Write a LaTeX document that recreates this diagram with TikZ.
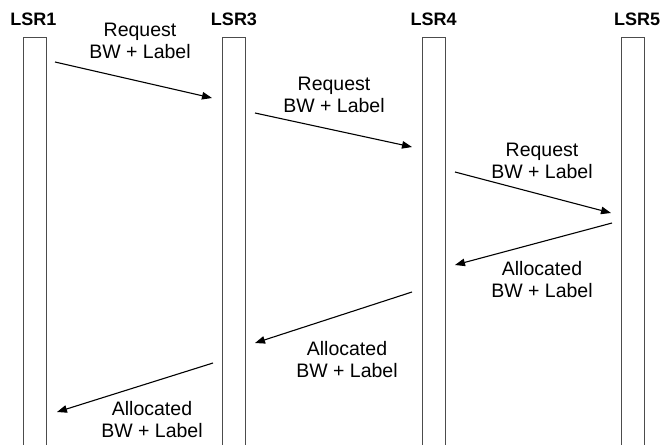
\documentclass[tikz,border=0pt]{standalone}
\usepackage{fontspec}
\setmainfont{Liberation Sans}
\usetikzlibrary{arrows.meta}
\begin{document}
\begin{tikzpicture}[x=1pt,y=-1pt,
  bar/.style={draw=black!70,line width=0.9pt,minimum width=23pt,minimum height=426pt,inner sep=0pt,anchor=north},
  lsr/.style={font=\bfseries\fontsize{18}{20}\selectfont,anchor=base,inner sep=0pt},
  msg/.style={font=\fontsize{19.5}{22}\selectfont,align=center,anchor=base,inner sep=0pt},
  arr/.style={-{Triangle[length=10pt,width=7.5pt]},line width=1.1pt,black}]
\useasboundingbox (0,0) rectangle (660,444);
% bars
\node[bar] (b1) at (34.5,37) {};
\node[bar] (b3) at (234,37) {};
\node[bar] (b4) at (433.5,37) {};
\node[bar] (b5) at (632.5,37) {};
% headings
\node[lsr] (h1) at (33.5,26) {LSR1};
\node[lsr] (h3) at (234,26) {LSR3};
\node[lsr] (h4) at (433.5,26) {LSR4};
\node[lsr] (h5) at (637,26) {LSR5};
% arrow ends
\coordinate (a1s) at (55,62);   \coordinate (a1e) at (212,98);
\coordinate (a2s) at (255,113); \coordinate (a2e) at (412,147);
\coordinate (a3s) at (455,172); \coordinate (a3e) at (611,213);
\coordinate (a4s) at (612,223); \coordinate (a4e) at (455,265);
\coordinate (a5s) at (412,292); \coordinate (a5e) at (255,343);
\coordinate (a6s) at (213,363); \coordinate (a6e) at (57,412);
\draw[arr] (a1s) -- (a1e);
\draw[arr] (a2s) -- (a2e);
\draw[arr] (a3s) -- (a3e);
\draw[arr] (a4s) -- (a4e);
\draw[arr] (a5s) -- (a5e);
\draw[arr] (a6s) -- (a6e);
% labels (anchor = baseline of last line)
\node[msg] (m1) at (140,59) {Request\\BW + Label};
\node[msg] (m2) at (334,112) {Request\\BW + Label};
\node[msg] (m3) at (542,178) {Request\\BW + Label};
\node[msg] (m4) at (542,297) {Allocated\\BW + Label};
\node[msg] (m5) at (347,377) {Allocated\\BW + Label};
\node[msg] (m6) at (152,437) {Allocated\\BW + Label};
\end{tikzpicture}
\end{document}
